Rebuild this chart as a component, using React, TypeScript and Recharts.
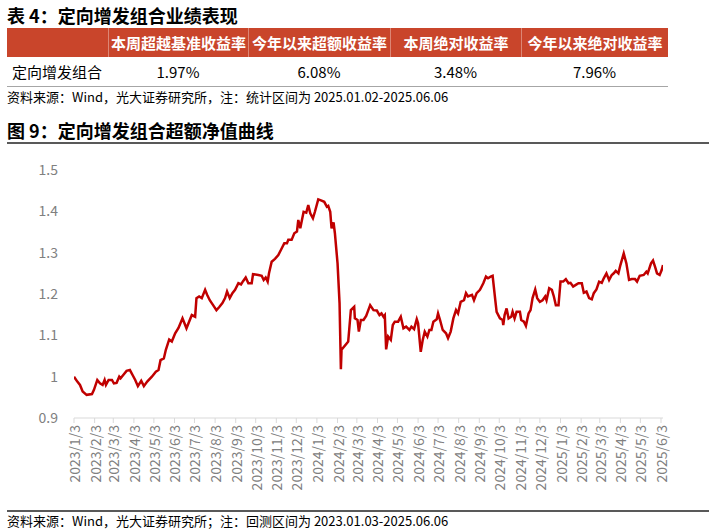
import React from 'react';
import { LineChart, Line, XAxis, YAxis } from 'recharts';

const tableTitle = '表 4：定向增发组合业绩表现';
const tableHeaders = ['本周超越基准收益率', '今年以来超额收益率', '本周绝对收益率', '今年以来绝对收益率'];
const rowLabel = '定向增发组合';
const rowValues = ['1.97%', '6.08%', '3.48%', '7.96%'];
const tableNote = '资料来源：Wind，光大证券研究所，注：统计区间为 2025.01.02-2025.06.06';
const chartTitle = '图 9：定向增发组合超额净值曲线';
const chartNote = '资料来源：Wind，光大证券研究所；注：回测区间为 2023.01.03-2025.06.06';

const yTicks = [0.9, 1, 1.1, 1.2, 1.3, 1.4, 1.5];
const xTickLabels = [
  '2023/1/3', '2023/2/3', '2023/3/3', '2023/4/3', '2023/5/3', '2023/6/3',
  '2023/7/3', '2023/8/3', '2023/9/3', '2023/10/3', '2023/11/3', '2023/12/3',
  '2024/1/3', '2024/2/3', '2024/3/3', '2024/4/3', '2024/5/3', '2024/6/3',
  '2024/7/3', '2024/8/3', '2024/9/3', '2024/10/3', '2024/11/3', '2024/12/3',
  '2025/1/3', '2025/2/3', '2025/3/3', '2025/4/3', '2025/5/3', '2025/6/3',
];

// 超额净值
const nav2023: [string, number][] = [
  ['2023-01-03', 1.0], ['2023-01-08', 0.988], ['2023-01-12', 0.98], ['2023-01-16', 0.964],
  ['2023-01-22', 0.956], ['2023-01-30', 0.958], ['2023-02-02', 0.968], ['2023-02-07', 0.992],
  ['2023-02-11', 0.984], ['2023-02-15', 0.98], ['2023-02-18', 0.992], ['2023-02-20', 0.98],
  ['2023-02-24', 0.992], ['2023-03-01', 0.992], ['2023-03-04', 0.984], ['2023-03-08', 0.985],
  ['2023-03-12', 1.0], ['2023-03-14', 0.996], ['2023-03-18', 1.004], ['2023-03-23', 1.014],
  ['2023-03-28', 1.016], ['2023-04-01', 1.004], ['2023-04-05', 0.992], ['2023-04-09', 0.977],
  ['2023-04-14', 0.99], ['2023-04-18', 0.977], ['2023-04-23', 0.988], ['2023-04-30', 1.0],
  ['2023-05-06', 1.012], ['2023-05-10', 1.016], ['2023-05-13', 1.04], ['2023-05-18', 1.044],
  ['2023-05-21', 1.065], ['2023-05-26', 1.09], ['2023-05-30', 1.085], ['2023-06-04', 1.105],
  ['2023-06-09', 1.118], ['2023-06-15', 1.141], ['2023-06-21', 1.117], ['2023-06-29', 1.149],
  ['2023-07-04', 1.145], ['2023-07-06', 1.19], ['2023-07-10', 1.194], ['2023-07-14', 1.19],
  ['2023-07-19', 1.21], ['2023-07-22', 1.198], ['2023-07-26', 1.185], ['2023-07-31', 1.173],
  ['2023-08-05', 1.161], ['2023-08-09', 1.168], ['2023-08-14', 1.178], ['2023-08-18', 1.19],
  ['2023-08-21', 1.206], ['2023-08-25', 1.19], ['2023-08-29', 1.202], ['2023-09-02', 1.21],
  ['2023-09-07', 1.226], ['2023-09-11', 1.223], ['2023-09-14', 1.231], ['2023-09-18', 1.24],
  ['2023-09-22', 1.226], ['2023-09-27', 1.226], ['2023-09-29', 1.248], ['2023-10-07', 1.246],
  ['2023-10-12', 1.244], ['2023-10-15', 1.234], ['2023-10-18', 1.24], ['2023-10-21', 1.23],
  ['2023-10-23', 1.25], ['2023-10-27', 1.278], ['2023-11-01', 1.285], ['2023-11-06', 1.294],
  ['2023-11-11', 1.31], ['2023-11-15', 1.323], ['2023-11-19', 1.323], ['2023-11-21', 1.331],
  ['2023-11-26', 1.331], ['2023-11-30', 1.347], ['2023-12-04', 1.351], ['2023-12-06', 1.379],
  ['2023-12-09', 1.359], ['2023-12-14', 1.399], ['2023-12-18', 1.397], ['2023-12-21', 1.415],
  ['2023-12-24', 1.395], ['2023-12-28', 1.383], ['2023-12-31', 1.399],
];

const nav2024: [string, number][] = [
  ['2024-01-05', 1.429], ['2024-01-10', 1.426], ['2024-01-14', 1.423], ['2024-01-18', 1.411],
  ['2024-01-20', 1.413], ['2024-01-23', 1.399], ['2024-01-25', 1.359], ['2024-01-28', 1.373],
  ['2024-01-30', 1.347], ['2024-02-03', 1.274], ['2024-02-06', 1.178], ['2024-02-08', 1.018],
  ['2024-02-09', 1.065], ['2024-02-17', 1.081], ['2024-02-19', 1.085], ['2024-02-23', 1.161],
  ['2024-02-28', 1.169], ['2024-02-29', 1.141], ['2024-03-04', 1.137], ['2024-03-06', 1.109],
  ['2024-03-09', 1.137], ['2024-03-13', 1.137], ['2024-03-17', 1.147], ['2024-03-23', 1.173],
  ['2024-03-28', 1.161], ['2024-04-02', 1.16], ['2024-04-06', 1.149], ['2024-04-09', 1.153],
  ['2024-04-12', 1.145], ['2024-04-14', 1.149], ['2024-04-16', 1.066], ['2024-04-19', 1.097],
  ['2024-04-23', 1.089], ['2024-04-26', 1.125], ['2024-04-29', 1.133], ['2024-05-04', 1.133],
  ['2024-05-08', 1.145], ['2024-05-12', 1.117], ['2024-05-16', 1.121], ['2024-05-21', 1.113],
  ['2024-05-24', 1.121], ['2024-05-28', 1.115], ['2024-06-01', 1.139], ['2024-06-03', 1.129],
  ['2024-06-07', 1.06], ['2024-06-10', 1.089], ['2024-06-13', 1.109], ['2024-06-17', 1.097],
  ['2024-06-20', 1.113], ['2024-06-23', 1.113], ['2024-06-26', 1.133], ['2024-07-01', 1.139],
  ['2024-07-03', 1.153], ['2024-07-06', 1.137], ['2024-07-10', 1.113], ['2024-07-15', 1.105],
  ['2024-07-18', 1.093], ['2024-07-22', 1.109], ['2024-07-26', 1.141], ['2024-07-30', 1.161],
  ['2024-08-02', 1.153], ['2024-08-06', 1.181], ['2024-08-11', 1.185], ['2024-08-14', 1.202],
  ['2024-08-17', 1.194], ['2024-08-23', 1.198], ['2024-08-26', 1.185], ['2024-08-30', 1.202],
  ['2024-09-04', 1.21], ['2024-09-09', 1.226], ['2024-09-13', 1.242], ['2024-09-16', 1.238],
  ['2024-09-20', 1.242], ['2024-09-23', 1.244], ['2024-09-27', 1.185], ['2024-09-29', 1.157],
  ['2024-10-04', 1.141], ['2024-10-08', 1.137], ['2024-10-09', 1.125], ['2024-10-11', 1.149],
  ['2024-10-14', 1.165], ['2024-10-17', 1.141], ['2024-10-21', 1.145], ['2024-10-23', 1.157],
  ['2024-10-26', 1.141], ['2024-10-29', 1.157], ['2024-11-03', 1.157], ['2024-11-05', 1.137],
  ['2024-11-09', 1.133], ['2024-11-12', 1.123], ['2024-11-16', 1.153], ['2024-11-19', 1.161],
  ['2024-11-22', 1.19], ['2024-11-26', 1.211], ['2024-11-29', 1.19], ['2024-12-03', 1.181],
  ['2024-12-07', 1.185], ['2024-12-11', 1.194], ['2024-12-13', 1.185], ['2024-12-17', 1.214],
  ['2024-12-21', 1.21], ['2024-12-24', 1.194], ['2024-12-27', 1.173], ['2024-12-31', 1.173],
];

const nav2025: [string, number][] = [
  ['2025-01-03', 1.23], ['2025-01-07', 1.23], ['2025-01-11', 1.236], ['2025-01-15', 1.226],
  ['2025-01-18', 1.227], ['2025-01-22', 1.218], ['2025-01-26', 1.222], ['2025-01-30', 1.226],
  ['2025-02-04', 1.226], ['2025-02-07', 1.203], ['2025-02-11', 1.206], ['2025-02-15', 1.19],
  ['2025-02-19', 1.187], ['2025-02-22', 1.202], ['2025-02-26', 1.211], ['2025-03-02', 1.23],
  ['2025-03-06', 1.227], ['2025-03-09', 1.238], ['2025-03-13', 1.25], ['2025-03-17', 1.234],
  ['2025-03-21', 1.246], ['2025-03-24', 1.25], ['2025-03-27', 1.256], ['2025-03-31', 1.25],
  ['2025-04-03', 1.27], ['2025-04-08', 1.298], ['2025-04-12', 1.274], ['2025-04-16', 1.234],
  ['2025-04-20', 1.236], ['2025-04-25', 1.236], ['2025-04-28', 1.23], ['2025-05-02', 1.244],
  ['2025-05-08', 1.246], ['2025-05-12', 1.254], ['2025-05-14', 1.25], ['2025-05-19', 1.274],
  ['2025-05-22', 1.281], ['2025-05-25', 1.266], ['2025-05-28', 1.25], ['2025-06-01', 1.246],
  ['2025-06-04', 1.258], ['2025-06-06', 1.27],
];

const toTime = (s: string) => {
  const [y, m, d] = s.split(/[-/]/).map(Number);
  return Date.UTC(y, m - 1, d);
};

const data = [...nav2023, ...nav2024, ...nav2025].map(([date, nav]) => ({ t: toTime(date), nav }));
const xTicks = xTickLabels.map(toTime);
const xDomain = [toTime('2023-01-03'), toTime('2025-06-06')];

const FONT = "'Noto Sans CJK SC', 'Noto Sans', sans-serif";
const RED = '#C9452B';

const DateTick = (props: any) => {
  const { x, y, payload } = props;
  const d = new Date(payload.value);
  const label = `${d.getUTCFullYear()}/${d.getUTCMonth() + 1}/${d.getUTCDate()}`;
  return (
    <text
      x={x}
      y={y}
      transform={`rotate(-90, ${x}, ${y})`}
      textAnchor="end"
      dominantBaseline="central"
      fill="#808080"
      fontSize={14}
      fontFamily={FONT}
    >
      {label}
    </text>
  );
};

const colLeft = [7, 108, 248, 390, 521];
const colWidth = [101, 140, 142, 131, 147];

export default function App() {
  return (
    <div
      style={{
        position: 'absolute',
        left: 0,
        top: 0,
        width: 716,
        height: 532,
        background: '#fff',
        fontFamily: FONT,
        color: '#000',
      }}
    >
      <div style={{ position: 'absolute', left: 7, top: 5, height: 20, lineHeight: '20px', fontSize: 18, fontWeight: 700 }}>
        {tableTitle}
      </div>

      <div style={{ position: 'absolute', left: 7, top: 28, width: 661, height: 29, background: RED }} />
      {tableHeaders.map((h, i) => (
        <div
          key={h}
          style={{
            position: 'absolute',
            left: colLeft[i + 1],
            top: 28,
            width: colWidth[i + 1],
            height: 29,
            lineHeight: '29px',
            textAlign: 'center',
            color: '#fff',
            fontSize: 15,
            fontWeight: 700,
            borderLeft: '1px solid rgba(255,255,255,0.35)',
            boxSizing: 'border-box',
          }}
        >
          {h}
        </div>
      ))}

      <div style={{ position: 'absolute', left: 12, top: 58, height: 28, lineHeight: '28px', fontSize: 15 }}>{rowLabel}</div>
      {rowValues.map((v, i) => (
        <div
          key={v}
          style={{
            position: 'absolute',
            left: colLeft[i + 1],
            top: 58,
            width: colWidth[i + 1],
            height: 28,
            lineHeight: '28px',
            textAlign: 'center',
            fontSize: 15,
          }}
        >
          {v}
        </div>
      ))}
      <div style={{ position: 'absolute', left: 7, top: 86, width: 661, height: 1, background: '#a6a6a6' }} />
      <div style={{ position: 'absolute', left: 7, top: 88, height: 18, lineHeight: '18px', fontSize: 13 }}>{tableNote}</div>

      <div style={{ position: 'absolute', left: 7, top: 120, height: 20, lineHeight: '20px', fontSize: 18, fontWeight: 700 }}>
        {chartTitle}
      </div>
      <div style={{ position: 'absolute', left: 7, top: 142, width: 702, height: 2, background: '#595959' }} />

      <div style={{ position: 'absolute', left: 0, top: 150 }}>
        <LineChart width={716} height={360} data={data} margin={{ top: 20, right: 53, bottom: 12, left: 14 }}>
          <XAxis
            dataKey="t"
            type="number"
            scale="time"
            domain={xDomain}
            ticks={xTicks}
            interval={0}
            height={80}
            stroke="#d9d9d9"
            tickSize={5}
            tickMargin={2}
            tick={<DateTick />}
            allowDataOverflow
          />
          <YAxis
            domain={[0.9, 1.5]}
            ticks={yTicks}
            width={60}
            axisLine={false}
            tickLine={false}
            tickMargin={10}
            tick={{ fill: '#808080', fontSize: 14, fontFamily: FONT }}
            tickFormatter={(v: number) => String(Number(v.toFixed(1)))}
          />
          <Line
            type="linear"
            dataKey="nav"
            stroke="#C00000"
            strokeWidth={2.5}
            dot={false}
            isAnimationActive={false}
          />
        </LineChart>
      </div>

      <div style={{ position: 'absolute', left: 7, top: 510, width: 702, height: 2, background: '#595959' }} />
      <div style={{ position: 'absolute', left: 7, top: 512, height: 18, lineHeight: '18px', fontSize: 13 }}>{chartNote}</div>
    </div>
  );
}
